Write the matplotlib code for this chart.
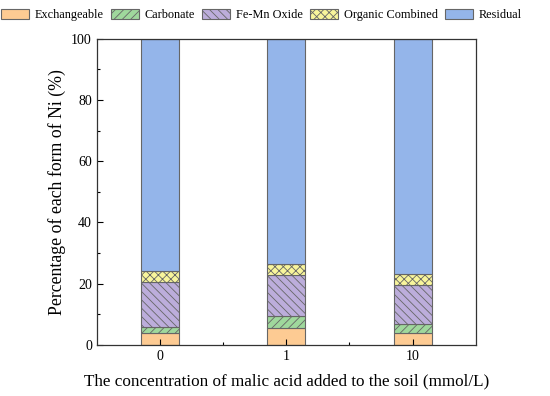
import numpy as np
import matplotlib
matplotlib.use("Agg")
import matplotlib.pyplot as plt

plt.rcParams['font.family'] = ['Liberation Serif', 'DejaVu Serif']
plt.rcParams['hatch.color'] = '#555555'
plt.rcParams['hatch.linewidth'] = 0.6

categories = ['0', '1', '10']
forms = ['Exchangeable', 'Carbonate', 'Fe-Mn Oxide', 'Organic Combined', 'Residual']
exchangeable = [4.0, 5.4, 3.8]
carbonate = [1.7, 4.1, 3.1]
fe_mn_oxide = [14.7, 13.5, 12.7]
organic = [3.9, 3.5, 3.6]
residual = [75.7, 73.5, 76.8]

colors = ['#FDCB93', '#9FD89C', '#BCADDB', '#F8F59B', '#94B5EA']
hatches = ['', '////', '\\\\\\\\', 'xxxx', '']

fig = plt.figure(figsize=(5.5, 3.96), dpi=100)
ax = fig.add_axes([0.176, 0.129, 0.689, 0.773])

x = np.arange(len(categories))
bottom = np.zeros(len(categories))
series = [exchangeable, carbonate, fe_mn_oxide, organic, residual]
handles = []
for vals, name, c, h in zip(series, forms, colors, hatches):
    b = ax.bar(x, vals, 0.3, bottom=bottom, color=c, hatch=h,
               edgecolor='#666666', linewidth=0.8, label=name)
    handles.append(b)
    bottom += np.array(vals)

ax.set_xlim(-0.5, 2.5)
ax.set_ylim(0, 100)
ax.set_xticks(x)
ax.set_xticklabels(categories)
ax.set_xticks([0.5, 1.5], minor=True)
ax.set_yticks([0, 20, 40, 60, 80, 100])
ax.set_yticks([10, 30, 50, 70, 90], minor=True)
ax.tick_params(which='both', direction='in', labelsize=10, width=0.8)
ax.tick_params(which='major', length=4)
ax.tick_params(which='minor', length=2.5)
for s in ax.spines.values():
    s.set_linewidth(0.9)
    s.set_color('#333333')

ax.set_xlabel('The concentration of malic acid added to the soil (mmol/L)', fontsize=12.3, labelpad=8)
ax.set_ylabel('Percentage of each form of Ni (%)', fontsize=12.8, labelpad=4)

fig.legend(handles=handles, labels=forms, loc='upper center', bbox_to_anchor=(0.475, 1.0),
           ncol=5, frameon=False, fontsize=8.8, handlelength=2.3, handleheight=0.9,
           columnspacing=0.6, handletextpad=0.45, borderaxespad=0.3)

fig.savefig('out.png', dpi=100)
